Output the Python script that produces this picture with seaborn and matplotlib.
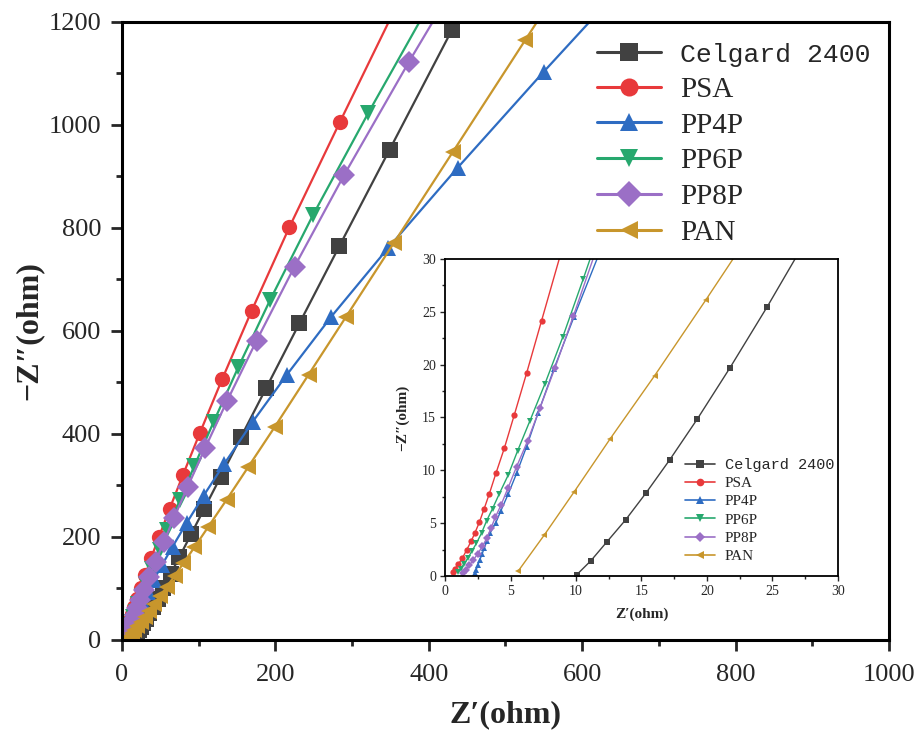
import numpy as np
import pandas as pd
import matplotlib
matplotlib.use("Agg")
import matplotlib.pyplot as plt
import seaborn as sns
from matplotlib.lines import Line2D
from matplotlib.ticker import MultipleLocator

# Nyquist data (Z' and -Z'' in ohm) for each separator
samples = ["Celgard 2400", "PSA", "PP4P", "PP6P", "PP8P", "PAN"]
colors = ["#414141", "#e8393b", "#2e6cc2", "#27a86e", "#9b6fc6", "#c8962c"]
markers = ["s", "o", "^", "v", "D", "<"]

celgard_zre = [10.04, 11.14, 12.33, 13.78, 15.33, 17.16, 19.27, 21.74, 24.61,
               27.9, 31.6, 35.9, 40.7, 46.6, 53.7, 63.5, 74.9,
               90.4, 107, 128.7, 155.2, 188.3, 231.4, 283.5, 348.9, 430, 530]
celgard_zim = [0.1, 1.45, 3.19, 5.3, 7.83, 11.0, 14.87, 19.67, 25.5,
               32.5, 41, 51.5, 64, 80, 100, 128, 161,
               206, 254, 317, 394, 490, 615, 765, 952, 1184, 1470]

psa_zre = [0.58, 0.76, 1.02, 1.32, 1.65, 2.0, 2.29, 2.62, 2.97, 3.38,
           3.89, 4.53, 5.29, 6.23, 7.37,
           8.95, 10.9, 13.3, 16.2, 20.0, 24.6, 30.5, 38.0,
           48.3, 62.0, 79.4, 101.6, 130.8, 169.0, 218.4, 284.2, 369.0]
psa_zim = [0.41, 0.66, 1.13, 1.67, 2.46, 3.3, 4.1, 5.08, 6.3, 7.77,
           9.73, 12.1, 15.25, 19.2, 24.15,
           31, 39.5, 50, 63, 80, 100.6, 126.5, 159,
           200, 254, 320, 402, 507, 639, 802, 1006, 1265]

pp4p_zre = [2.27, 2.38, 2.5, 2.65, 2.82, 3.0, 3.2, 3.43,
            3.86, 4.27, 4.83, 5.47, 6.23, 7.12, 8.31, 9.84,
            11.8, 14.3, 17.5, 21.6, 26.7, 33.3, 41.6, 52.4,
            65.9, 84.3, 106.4, 133.4, 170.6, 215.0, 273.0, 346.9, 437.6, 549.6, 689.7]
pp4p_zim = [0.25, 0.6, 1.0, 1.5, 2.05, 2.65, 3.3, 4.04,
            4.99, 6.19, 7.77, 9.73, 12.25, 15.47, 19.58, 24.5,
            30.6, 38.3, 47.8, 59.8, 74.7, 93.4, 116.8, 146,
            181, 227, 280, 342, 424, 515, 628, 761, 917, 1103, 1330]

pp6p_zre = [1.0, 1.2, 1.45, 1.75, 2.05, 2.4, 2.8, 3.18,
            3.63, 4.14, 4.83, 5.54, 6.48, 7.63, 8.98, 10.55,
            12.52, 14.9, 17.83, 21.5, 25.9, 31.6, 39.1, 49.1,
            59.3, 75.5, 94.4, 119.4, 151.8, 193.1, 249.0, 321.4, 418.0]
pp6p_zim = [0.35, 0.7, 1.15, 1.7, 2.35, 3.1, 4.1, 5.24,
            6.38, 7.77, 9.57, 11.84, 14.68, 18.19, 22.58, 28.1,
            35.2, 44, 55, 69, 86, 108, 137, 175,
            213, 272, 338, 423, 530, 660, 825, 1024, 1280]

pp8p_zre = [1.4, 1.6, 1.85, 2.15, 2.5, 2.85, 3.2, 3.5,
            3.84, 4.27, 4.8, 5.47, 6.31, 7.25, 8.39, 9.79,
            11.58, 13.74, 16.4, 19.7, 23.8, 29.0, 35.6, 43.8,
            54.4, 67.8, 85.5, 108.2, 137.0, 175.4, 225.0, 289.7, 374.3, 485.0]
pp8p_zim = [0.3, 0.6, 1.0, 1.5, 2.1, 2.8, 3.6, 4.5,
            5.56, 6.7, 8.3, 10.36, 12.8, 15.9, 19.67, 24.57,
            31, 39, 49, 61.5, 77, 97, 121.5, 152,
            190, 237, 297, 372, 464, 581, 725, 903, 1123, 1400]

pan_zre = [5.59, 7.58, 9.84, 12.59, 16.0, 19.9,
           24.4, 29.4, 35.3, 42.1, 49.9, 58.7, 68.5, 80.1, 94.5,
           112.7, 136.3, 164.7, 198.9, 243.2, 291.9, 354.5, 431.5, 525.8, 641.0]
pan_zim = [0.47, 3.88, 7.93, 12.95, 18.95, 26.1,
           34.5, 44, 55.5, 69, 85, 103.5, 124, 149, 180,
           220, 272, 336, 413, 515, 627, 771, 948, 1165, 1430]

series = {
    "Celgard 2400": (celgard_zre, celgard_zim),
    "PSA": (psa_zre, psa_zim),
    "PP4P": (pp4p_zre, pp4p_zim),
    "PP6P": (pp6p_zre, pp6p_zim),
    "PP8P": (pp8p_zre, pp8p_zim),
    "PAN": (pan_zre, pan_zim),
}
df = pd.concat(
    [pd.DataFrame({"sample": name, "zre": zre, "zim": zim})
     for name, (zre, zim) in series.items()],
    ignore_index=True,
)

sns.set_style("ticks")
plt.rcParams["font.family"] = ["Liberation Serif", "DejaVu Serif"]

fig = plt.figure(figsize=(9.17, 7.33), dpi=100)
ax = fig.add_axes([0.133, 0.127, 0.8365, 0.843])
ins = fig.add_axes([0.4853, 0.2142, 0.4285, 0.4325])


def draw(axis, lw, ms):
    sns.lineplot(data=df, x="zre", y="zim", hue="sample", style="sample",
                 hue_order=samples, style_order=samples, palette=colors,
                 markers=markers, dashes=False, sort=False, estimator=None,
                 legend=False, linewidth=lw, markersize=ms,
                 markeredgewidth=0, ax=axis)


def handles(lw, ms):
    return [Line2D([], [], color=c, marker=m, lw=lw, markersize=ms,
                   markeredgewidth=0) for c, m in zip(colors, markers)]


# main plot
draw(ax, 1.6, 11)
ax.set_xlim(0, 1000)
ax.set_ylim(0, 1200)
ax.xaxis.set_major_locator(MultipleLocator(200))
ax.xaxis.set_minor_locator(MultipleLocator(100))
ax.yaxis.set_major_locator(MultipleLocator(200))
ax.yaxis.set_minor_locator(MultipleLocator(100))
ax.tick_params(which="major", direction="out", length=8, width=2,
               labelsize=19, pad=7, top=False, right=False)
ax.tick_params(axis="x", which="major", pad=9)
ax.tick_params(which="minor", direction="out", length=4.5, width=2,
               top=False, right=False)
for sp in ax.spines.values():
    sp.set_linewidth(2.2)
    sp.set_color("black")
ax.set_xlabel("Z\u2032(ohm)", fontsize=23, fontweight="bold")
ax.set_ylabel("\u2212Z\u2033(ohm)", fontsize=23, fontweight="bold")
ax.xaxis.set_label_coords(0.5, -0.097)
ax.yaxis.set_label_coords(-0.102, 0.5)

leg = ax.legend(handles(2.2, 13), samples, loc="upper left",
                bbox_to_anchor=(0.619, 0.968), frameon=False, fontsize=21,
                handlelength=2.2, handletextpad=0.65, labelspacing=0.32,
                borderpad=0, borderaxespad=0)
leg.get_texts()[0].set_family(["Liberation Mono", "DejaVu Sans Mono"])
leg.get_texts()[0].set_fontsize(19)

# inset: high-frequency region
draw(ins, 1.0, 4.5)
ins.set_xlim(0, 30)
ins.set_ylim(0, 30)
ins.xaxis.set_major_locator(MultipleLocator(5))
ins.xaxis.set_minor_locator(MultipleLocator(2.5))
ins.yaxis.set_major_locator(MultipleLocator(5))
ins.yaxis.set_minor_locator(MultipleLocator(2.5))
ins.tick_params(which="major", direction="out", length=3.5, width=1,
                labelsize=10, pad=3, top=False, right=False)
ins.tick_params(which="minor", direction="out", length=2, width=1,
                top=False, right=False)
for sp in ins.spines.values():
    sp.set_linewidth(1.3)
    sp.set_color("black")
ins.set_xlabel("Z\u2032(ohm)", fontsize=11, fontweight="bold")
ins.set_ylabel("\u2212Z\u2033(ohm)", fontsize=11, fontweight="bold")
ins.xaxis.set_label_coords(0.5, -0.1)
ins.yaxis.set_label_coords(-0.09, 0.5)

ileg = ins.legend(handles(1.2, 5.5), samples, loc="lower right",
                  bbox_to_anchor=(0.99, 0.04), frameon=False, fontsize=11,
                  handlelength=2.0, handletextpad=0.6, labelspacing=0.3,
                  borderpad=0, borderaxespad=0)
ileg.get_texts()[0].set_family(["Liberation Mono", "DejaVu Sans Mono"])

fig.savefig("out.png", dpi=100, facecolor="white")
